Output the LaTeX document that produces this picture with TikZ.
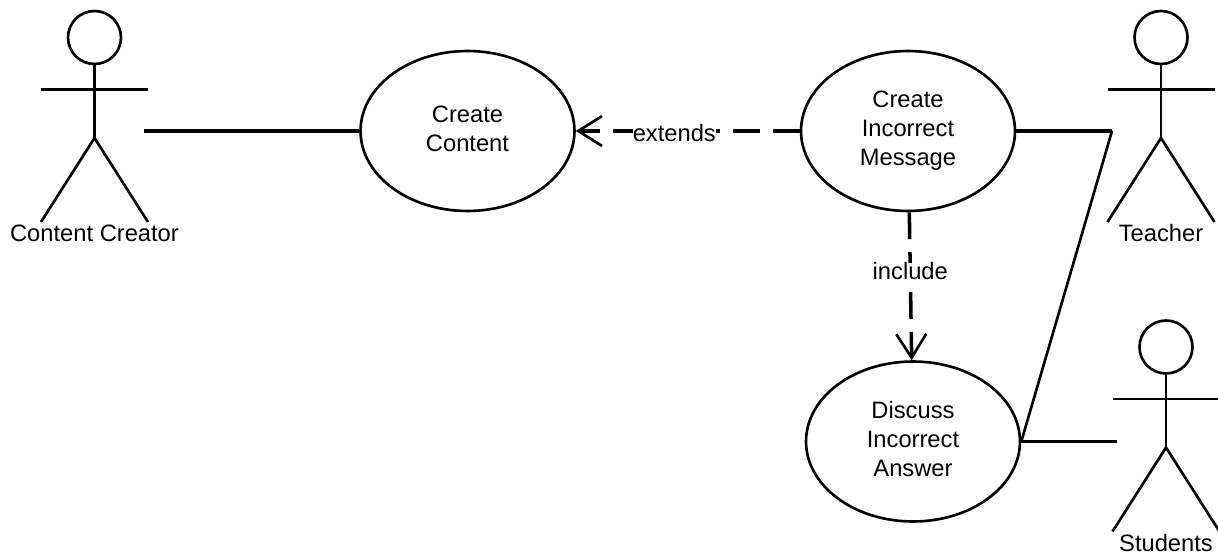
\documentclass[tikz,border=0pt]{standalone}
\usepackage{fontspec}
\setmainfont{Liberation Sans}
\usetikzlibrary{arrows.meta}
\usetikzlibrary{shapes.geometric}
\tikzset{
  usecase/.style={draw, ellipse, line width=1.5pt, minimum width=4.28cm, minimum height=3.2cm, inner sep=0pt, align=center, text depth=3pt},
  head/.style={draw, circle, line width=1.5pt, minimum size=1.06cm, inner sep=0pt},
  limb/.style={line width=1.5pt},
  assoc/.style={line width=2pt},
  dep/.style={line width=2pt, dash pattern=on 15.3pt off 7.4pt, -{Straight Barb[length=13.5pt,width=17pt,line width=1.5pt]}},
  deplabel/.style={fill=white, inner sep=0pt}
}
\begin{document}
\begin{tikzpicture}[x=0.02cm, y=-0.02cm, font=\fontsize{13.5}{16.4}\selectfont]
  \useasboundingbox (0,0) rectangle (1218,554);
  % actors
  \foreach \who/\px/\py/\tag in {creator/94.5/37.5/Content Creator, teacher/1161/37.5/Teacher, students/1166/347/Students} {
    \node[head] (\who) at (\px,\py) {};
    \coordinate (\who Waist) at (\px,\py+100.5);
    \draw[limb] (\who.south) -- (\who Waist);
    \draw[limb] (\px-53.5,\py+52) -- (\px+53.5,\py+52);
    \draw[limb] (\px-53.5,\py+184.5) -- (\who Waist) -- (\px+53.5,\py+184.5);
    \node[anchor=base] (\who Label) at (\px,\py+204) {\tag};
  }
  % use cases
  \node[usecase] (content) at (467.5,131) {Create\\Content};
  \node[usecase] (message) at (908,131) {Create\\Incorrect\\Message};
  \node[usecase] (discuss) at (913,441.5) {Discuss\\Incorrect\\Answer};

  \coordinate (creatorEnd) at (144,131);
  \coordinate (teacherEnd) at (1112,131);
  \coordinate (studentsEnd) at (1117,441.5);

  \draw[assoc] (creatorEnd) -- (content);
  \draw[assoc] (message) -- (teacherEnd);
  \draw[assoc] (discuss) -- (studentsEnd);
  \draw[limb] (discuss.east) -- (teacherEnd);

  \draw[dep] (message) -- node[deplabel, pos=0.56, yshift=-1pt] (extendsLabel) {extends} (content);
  \draw[dep] (message) -- node[deplabel, pos=0.4] (includeLabel) {include} (discuss);
\end{tikzpicture}
\end{document}
